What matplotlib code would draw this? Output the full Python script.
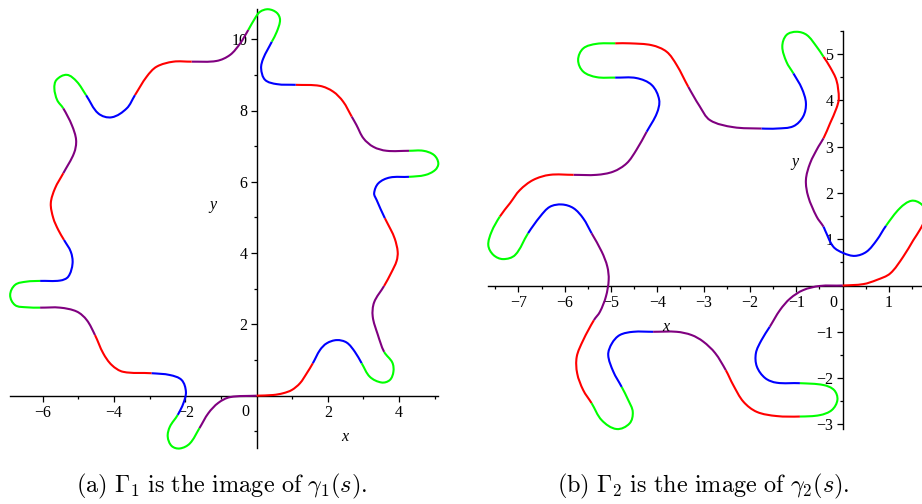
import numpy as np
import matplotlib
matplotlib.use('Agg')
import matplotlib.pyplot as plt
from matplotlib.path import Path
from matplotlib.patches import PathPatch

plt.rcParams['mathtext.fontset'] = 'cm'

COLORS = {'red': '#ff0000', 'blue': '#0000ff', 'green': '#00ff00', 'purple': '#800080'}

# gamma_1 : pieces of the closed curve, starting at the origin heading right
g1_colors = ['red', 'blue', 'green', 'purple'] * 6
g1_pieces = [
    [(0, 0), (0.47, 0.02), (0.75, 0.07), (0.99, 0.16), (1.22, 0.35), (1.41, 0.63)],
    [(1.58, 0.91), (1.78, 1.28), (1.97, 1.47), (2.25, 1.56), (2.53, 1.49), (2.76, 1.23)],
    [(2.95, 0.91), (3.18, 0.53), (3.51, 0.37), (3.74, 0.44), (3.84, 0.67), (3.81, 0.93)],
    [(3.58, 1.23), (3.40, 1.72), (3.26, 2.22), (3.30, 2.62)],
    [(3.58, 3.08), (3.78, 3.45), (3.93, 3.78), (3.96, 4.04), (3.88, 4.40), (3.76, 4.67)],
    [(3.60, 4.98), (3.37, 5.49), (3.30, 5.68), (3.42, 5.96), (3.74, 6.12)],
    [(4.28, 6.14), (4.73, 6.19), (5.01, 6.33), (5.10, 6.52), (4.98, 6.75), (4.68, 6.87)],
    [(4.28, 6.87), (3.65, 6.87), (3.28, 6.98), (3.00, 7.22), (2.80, 7.60)],
    [(2.67, 7.83), (2.43, 8.25), (2.15, 8.53), (1.78, 8.69)],
    [(1.10, 8.72), (0.57, 8.74), (0.24, 8.86), (0.13, 9.18), (0.19, 9.46)],
    [(0.43, 9.93), (0.57, 10.21), (0.66, 10.54), (0.57, 10.74), (0.33, 10.84), (0.10, 10.77), (-0.04, 10.59)],
    [(-0.23, 10.26), (-0.46, 9.88), (-0.74, 9.56), (-1.12, 9.39)],
    [(-1.82, 9.37), (-2.33, 9.37), (-2.80, 9.23), (-3.08, 8.95)],
    [(-3.41, 8.43), (-3.64, 8.06), (-4.06, 7.81), (-4.44, 7.92)],
    [(-4.78, 8.43), (-5.04, 8.81), (-5.32, 9.00), (-5.61, 8.86), (-5.67, 8.62), (-5.59, 8.29)],
    [(-5.42, 8.06), (-5.18, 7.59), (-5.06, 7.17), (-5.12, 6.80)],
    [(-5.42, 6.24), (-5.65, 5.82), (-5.77, 5.40), (-5.70, 4.98), (-5.56, 4.65)],
    [(-5.40, 4.37), (-5.21, 4.04), (-5.16, 3.71), (-5.28, 3.34), (-5.51, 3.23)],
    [(-6.07, 3.22), (-6.45, 3.20), (-6.77, 3.11), (-6.91, 2.82), (-6.77, 2.54), (-6.45, 2.48)],
    [(-6.07, 2.47), (-5.51, 2.47), (-5.04, 2.36), (-4.76, 2.12)],
    [(-4.53, 1.70), (-4.30, 1.19), (-4.06, 0.86), (-3.74, 0.67)],
    [(-2.94, 0.63), (-2.43, 0.58), (-2.10, 0.44), (-1.98, 0.11), (-2.05, -0.21)],
    [(-2.21, -0.54), (-2.43, -0.87), (-2.49, -1.15), (-2.38, -1.41), (-2.15, -1.48), (-1.87, -1.34)],
    [(-1.60, -0.91), (-1.35, -0.49), (-1.07, -0.20), (-0.74, -0.04)],
]

# gamma_2
g2_colors = ['red', 'green', 'blue', 'purple'] * 6
g2_pieces = [
    [(0, 0), (0.45, 0.03), (0.74, 0.12), (1.03, 0.26), (1.31, 0.62), (1.53, 0.98), (1.67, 1.20)],
    [(1.77, 1.40), (1.80, 1.58), (1.70, 1.76), (1.49, 1.83), (1.24, 1.67)],
    [(0.94, 1.29), (0.74, 0.98), (0.52, 0.73), (0.27, 0.64), (0.02, 0.70), (-0.20, 0.84), (-0.38, 1.20)],
    [(-0.41, 1.27), (-0.56, 1.49), (-0.74, 1.92), (-0.79, 2.28), (-0.70, 2.64), (-0.52, 3.00)],
    [(-0.41, 3.18), (-0.27, 3.50), (-0.13, 3.83), (-0.08, 4.04), (-0.13, 4.43), (-0.27, 4.72)],
    [(-0.41, 4.94), (-0.56, 5.16), (-0.77, 5.41), (-0.99, 5.48), (-1.21, 5.41), (-1.30, 5.16), (-1.21, 4.83)],
    [(-1.06, 4.58), (-0.88, 4.26), (-0.79, 3.94), (-0.85, 3.65), (-1.06, 3.44), (-1.42, 3.39)],
    [(-1.75, 3.39), (-2.36, 3.42), (-2.86, 3.57), (-3.09, 3.88)],
    [(-3.33, 4.29), (-3.58, 4.76), (-3.80, 5.05), (-4.12, 5.19), (-4.59, 5.23)],
    [(-4.91, 5.23), (-5.31, 5.22), (-5.60, 5.12), (-5.71, 4.87), (-5.60, 4.62), (-5.31, 4.50)],
    [(-4.91, 4.49), (-4.45, 4.48), (-4.12, 4.33), (-3.96, 4.01), (-4.01, 3.72)],
    [(-4.23, 3.32), (-4.45, 2.93), (-4.66, 2.64), (-4.95, 2.46), (-5.31, 2.39)],
    [(-5.81, 2.39), (-6.32, 2.39), (-6.68, 2.28), (-6.97, 2.06), (-7.18, 1.78)],
    [(-7.40, 1.49), (-7.58, 1.16), (-7.65, 0.87), (-7.54, 0.66), (-7.33, 0.57), (-7.07, 0.66)],
    [(-6.79, 1.13), (-6.53, 1.49), (-6.32, 1.70), (-6.06, 1.75), (-5.81, 1.67), (-5.60, 1.45)],
    [(-5.42, 1.13), (-5.20, 0.73), (-5.08, 0.41), (-5.05, 0.12), (-5.11, -0.24), (-5.24, -0.57)],
    [(-5.37, -0.75), (-5.60, -1.18), (-5.74, -1.54), (-5.73, -1.90), (-5.60, -2.26)],
    [(-5.42, -2.54), (-5.20, -2.91), (-4.88, -3.10), (-4.60, -2.98), (-4.53, -2.73), (-4.63, -2.47)],
    [(-4.77, -2.19), (-4.95, -1.86), (-5.06, -1.50), (-4.98, -1.25), (-4.81, -1.07), (-4.52, -1.00)],
    [(-4.09, -1.00), (-3.58, -1.00), (-3.26, -1.07), (-3.01, -1.21), (-2.75, -1.46)],
    [(-2.52, -1.83), (-2.36, -2.15), (-2.14, -2.51), (-1.85, -2.73), (-1.42, -2.82)],
    [(-0.92, -2.83), (-0.49, -2.80), (-0.23, -2.69), (-0.11, -2.47), (-0.18, -2.26), (-0.41, -2.15)],
    [(-0.92, -2.11), (-1.42, -2.10), (-1.67, -2.00), (-1.85, -1.75), (-1.87, -1.46), (-1.75, -1.18)],
    [(-1.57, -0.89), (-1.35, -0.53), (-1.13, -0.28), (-0.85, -0.10), (-0.49, -0.01)],
]

# ticks
a_xmajor = [-6, -4, -2, 2, 4]
a_xminor = [-5, -3, -1, 1, 3, 5]
a_ymajor = [2, 4, 6, 8, 10]
a_yminor = [-1, 1, 3, 5, 7, 9]
b_xmajor = [-7, -6, -5, -4, -3, -2, -1, 1]
b_ymajor = [-3, -2, -1, 1, 2, 3, 4, 5]

captions = [r'$\mathrm{(a)\ }\Gamma_1\mathrm{\ is\ the\ image\ of\ }\gamma_1(s).$',
            r'$\mathrm{(b)\ }\Gamma_2\mathrm{\ is\ the\ image\ of\ }\gamma_2(s).$']

W, H = 922, 504
fig = plt.figure(figsize=(W / 100, H / 100), dpi=100)


def make_axes(origin, scale, xlim, ylim):
    ox, oy = origin
    left = ox + xlim[0] * scale
    right = ox + xlim[1] * scale
    top = oy - ylim[1] * scale
    bottom = oy - ylim[0] * scale
    ax = fig.add_axes([left / W, 1 - bottom / H, (right - left) / W, (bottom - top) / H])
    ax.set_xlim(xlim)
    ax.set_ylim(ylim)
    ax.patch.set_visible(False)
    for s in ['top', 'right']:
        ax.spines[s].set_visible(False)
    ax.spines['left'].set_position(('data', 0))
    ax.spines['bottom'].set_position(('data', 0))
    for s in ['left', 'bottom']:
        ax.spines[s].set_linewidth(1.0)
        ax.spines[s].set_zorder(1)
    ax.tick_params(which='major', direction='out', length=4.5, width=0.9, pad=2,
                   labelsize=11.5)
    ax.tick_params(which='minor', direction='out', length=2.5, width=0.9)
    return ax


def draw_loop(ax, pieces, colors):
    pts = np.array([p for piece in pieces for p in piece], float)
    n = len(pts)
    starts = np.cumsum([0] + [len(p) for p in pieces])
    tang = np.roll(pts, -1, 0) - np.roll(pts, 1, 0)
    tang /= np.linalg.norm(tang, axis=1)[:, None]
    for k, c in enumerate(colors):
        idx = list(range(starts[k], starts[k + 1] + 1))
        verts = [pts[idx[0] % n]]
        codes = [Path.MOVETO]
        for i, j in zip(idx[:-1], idx[1:]):
            a, b = pts[i % n], pts[j % n]
            d = np.linalg.norm(b - a) / 3
            verts += [a + tang[i % n] * d, b - tang[j % n] * d, b]
            codes += [Path.CURVE4] * 3
        ax.add_patch(PathPatch(Path(verts, codes), fill=False, ec=COLORS[c], lw=1.5,
                               capstyle='butt', clip_on=False, zorder=3))


def label_font():
    return dict(family='Liberation Serif', fontsize=11.5)


# panel (a)
ax1 = make_axes((256.5, 395.7), 35.65, (-6.91, 5.09), (-1.48, 10.84))
draw_loop(ax1, g1_pieces, g1_colors)
ax1.set_xticks(a_xmajor)
ax1.set_xticklabels([str(v).replace('-', '\u2212') for v in a_xmajor], **label_font())
ax1.set_xticks(a_xminor, minor=True)
ax1.set_yticks(a_ymajor)
ax1.set_yticklabels([str(v) for v in a_ymajor], **label_font())
ax1.set_yticks(a_yminor, minor=True)
ax1.annotate('0', (0, 0), xytext=(-8.3, -11.5), textcoords='offset points',
             ha='center', va='center', **label_font())
ax1.text(2.48, -1.16, 'x', style='italic', ha='center', va='center', **label_font())
ax1.text(-1.22, 5.35, 'y', style='italic', ha='center', va='center', **label_font())

# panel (b)
ax2 = make_axes((842.5, 285.5), 46.3, (-7.65, 1.72), (-3.11, 5.50))
draw_loop(ax2, g2_pieces, g2_colors)
ax2.set_xticks(b_xmajor)
ax2.set_xticklabels([str(v).replace('-', '\u2212') for v in b_xmajor], **label_font())
ax2.set_xticks(np.arange(-7.5, 1.6, 1.0), minor=True)
ax2.set_yticks(b_ymajor)
ax2.set_yticklabels([str(v).replace('-', '\u2212') for v in b_ymajor], **label_font())
ax2.set_yticks(np.arange(-2.5, 5.6, 1.0), minor=True)
ax2.annotate('0', (0, 0), xytext=(-6.8, -12.6), textcoords='offset points',
             ha='center', va='center', **label_font())
ax2.text(-3.81, -0.90, 'x', style='italic', ha='center', va='center', **label_font())
ax2.text(-1.03, 2.67, 'y', style='italic', ha='center', va='center', **label_font())

fig.text(222 / W, 1 - 492 / H, captions[0], fontsize=17.5,
         ha='center', va='baseline')
fig.text(703 / W, 1 - 492 / H, captions[1], fontsize=17.5,
         ha='center', va='baseline')

fig.savefig('out.png', dpi=100)
